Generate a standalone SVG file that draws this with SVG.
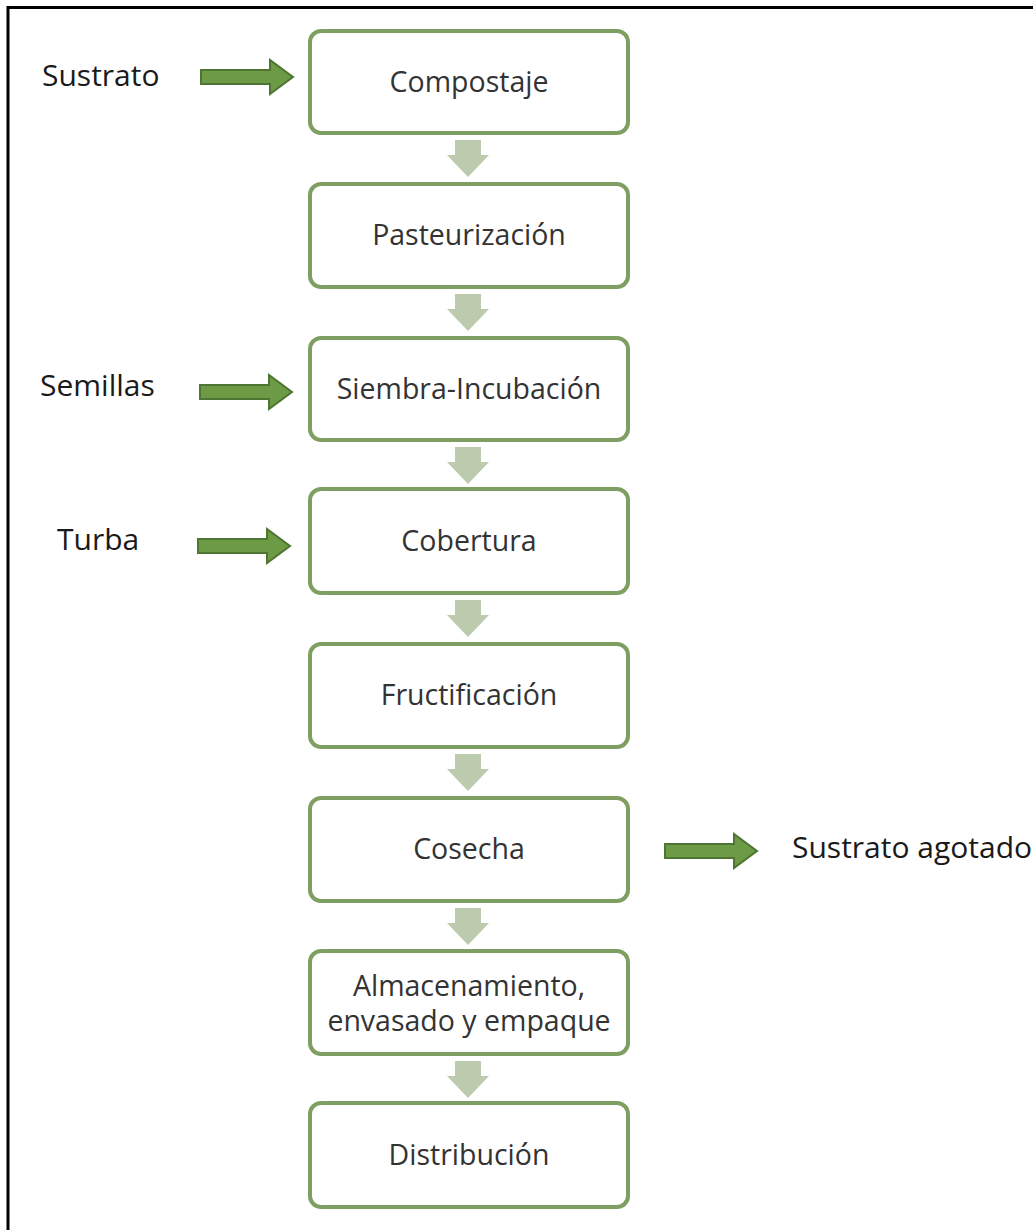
<svg xmlns="http://www.w3.org/2000/svg" width="1033" height="1230" viewBox="0 0 1033 1230">
<defs>
<style>
.box{fill:#ffffff;stroke:#7f9f62;stroke-width:4}
.bt{font-family:"Open Sans","Liberation Sans",sans-serif;font-size:28.5px;fill:#333333;text-anchor:middle}
.lb{font-family:"Open Sans","Liberation Sans",sans-serif;font-size:30px;fill:#1a1a1a}
.ga{fill:#6c9a45;stroke:#4e7532;stroke-width:2;stroke-linejoin:miter}
.da{fill:#bccbad}
</style>
<path id="ra" d="M0,-7 L69,-7 L69,-17 L92,0 L69,17 L69,7 L0,7 Z"/>
<path id="dn" d="M-13,0 L13,0 L13,15 L21,15 L0,37 L-21,15 L-13,15 Z"/>
</defs>
<rect width="1033" height="1230" fill="#ffffff"/>
<path d="M8,1230 L8,7.5 L1033,7.5" fill="none" stroke="#000" stroke-width="3"/>

<g id="connectors">
<use href="#ra" class="ga" x="201" y="77"/>
<use href="#ra" class="ga" x="200" y="392"/>
<use href="#ra" class="ga" x="198" y="546"/>
<use href="#ra" class="ga" x="665" y="851"/>
<use href="#dn" class="da" x="468" y="140"/>
<use href="#dn" class="da" x="468" y="294"/>
<use href="#dn" class="da" x="468" y="447"/>
<use href="#dn" class="da" x="468" y="600"/>
<use href="#dn" class="da" x="468" y="754"/>
<use href="#dn" class="da" x="468" y="908"/>
<use href="#dn" class="da" x="468" y="1061"/>
</g>

<g id="lbl-sustrato"><text class="lb" x="42" y="86">Sustrato</text></g>
<g id="lbl-semillas"><text class="lb" x="40" y="396">Semillas</text></g>
<g id="lbl-turba"><text class="lb" x="57" y="550">Turba</text></g>
<g id="lbl-agotado"><text class="lb" x="792" y="858">Sustrato agotado</text></g>

<g id="n1"><rect class="box" x="310" y="31" width="318" height="102" rx="11"/><text class="bt" x="469" y="92">Compostaje</text></g>
<g id="n2"><rect class="box" x="310" y="184" width="318" height="103" rx="11"/><text class="bt" x="469" y="245">Pasteurización</text></g>
<g id="n3"><rect class="box" x="310" y="338" width="318" height="102" rx="11"/><text class="bt" x="469" y="399">Siembra-Incubación</text></g>
<g id="n4"><rect class="box" x="310" y="489" width="318" height="104" rx="11"/><text class="bt" x="469" y="551">Cobertura</text></g>
<g id="n5"><rect class="box" x="310" y="644" width="318" height="103" rx="11"/><text class="bt" x="469" y="705">Fructificación</text></g>
<g id="n6"><rect class="box" x="310" y="798" width="318" height="103" rx="11"/><text class="bt" x="469" y="859">Cosecha</text></g>
<g id="n7"><rect class="box" x="310" y="951" width="318" height="103" rx="11"/><text class="bt" x="469" y="996">Almacenamiento,</text><text class="bt" x="469" y="1031">envasado y empaque</text></g>
<g id="n8"><rect class="box" x="310" y="1103" width="318" height="104" rx="11"/><text class="bt" x="469" y="1165">Distribución</text></g>
</svg>
